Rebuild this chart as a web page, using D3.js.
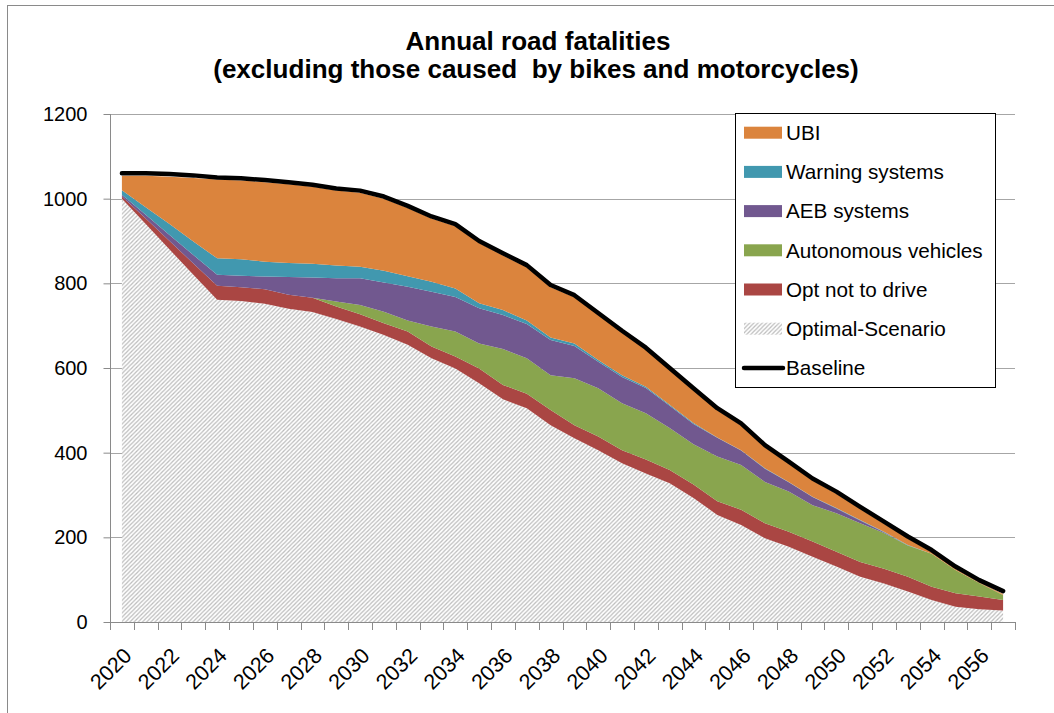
<!DOCTYPE html>
<head>
    <title>Annual road fatalities</title>
</head>
<meta charset="utf-8">

<script src="https://d3js.org/d3.v7.min.js"></script>
<style>
  body { margin: 0; background: #fff; }
  text { font-family: "Liberation Sans", Arial, sans-serif; fill: #000; }
</style>

<div id="my_dataviz"></div>
<body>
<script>

// values
var years = d3.range(2020, 2058)
var optimal   = [1000,940,880,820,761,758,752,740,732,716,698,678,655,623,599,564,526,505,465,434,406,375,351,328,293,253,229,198,178,154,131,107,91,72,52,36,30,27]
var optNot    = [5,13,20,27,33,33,34,33,34,29,29,28,31,28,28,35,34,34,36,31,32,31,33,31,32,32,36,35,35,36,35,35,35,35,31,32,30,25]
var autonom   = [0,0,0,0,0,0,0,0,0,12,22,27,26,47,59,59,85,84,82,111,114,111,109,99,95,106,106,98,95,86,91,91,84,74,78,55,32,12]
var aeb       = [4,9,14,20,26,27,30,42,48,55,63,69,80,82,82,83,80,81,83,76,63,62,60,53,48,44,34,31,22,19,11,7,2,0,0,0,0,0]
var warning   = [11,18,26,32,39,39,35,33,32,30,27,28,25,24,20,12,12,8,6,6,4,4,3,2,2,1,1,1,1,1,1,1,1,1,0,0,0,0]
var ubi       = [34,74,112,150,186,186,188,186,182,177,175,170,161,149,147,142,129,126,119,109,106,100,87,82,77,64,58,50,43,38,34,26,19,15,4,3,2,2]
var baseline  = [1060,1060,1058,1055,1050,1048,1044,1039,1033,1024,1019,1005,983,958,940,900,871,843,796,772,730,688,648,600,552,505,469,418,379,339,308,272,237,202,170,131,99,73]
var yTicks = [0, 200, 400, 600, 800, 1000, 1200]

var keys = ["optimal", "optNot", "autonom", "aeb", "warning", "ubi"]
var labels = {
  ubi: "UBI", warning: "Warning systems", aeb: "AEB systems",
  autonom: "Autonomous vehicles", optNot: "Opt not to drive", optimal: "Optimal-Scenario"
}
var colors = {
  ubi: "#db843d", warning: "#4198af", aeb: "#71588f",
  autonom: "#89a54e", optNot: "#aa4643", optimal: "url(#hatch)"
}

var table = years.map(function(yr, i) {
  return { year: yr, optimal: optimal[i], optNot: optNot[i], autonom: autonom[i],
           aeb: aeb[i], warning: warning[i], ubi: ubi[i], baseline: baseline[i] }
})

var W = 1054, H = 713
var plot = {left: 110, right: 1015, top: 114, bottom: 622}

var svg = d3.select("#my_dataviz")
  .append("svg")
    .attr("width", W)
    .attr("height", H)

var defs = svg.append("defs")
var pat = defs.append("pattern")
  .attr("id", "hatch")
  .attr("patternUnits", "userSpaceOnUse")
  .attr("width", 4.2).attr("height", 4.2)
pat.append("rect").attr("width", 4.2).attr("height", 4.2).attr("fill", "#fff")
pat.append("path")
  .attr("d", "M-1,1 l2,-2 M0,4.2 l4.2,-4.2 M3.2,5.2 l2,-2")
  .attr("stroke", "#bcbcbc")
  .attr("stroke-width", 1.2)

// outer chart frame
svg.append("rect")
  .attr("x", 7.5).attr("y", 5.5)
  .attr("width", 1100).attr("height", 800)
  .attr("fill", "none")
  .attr("stroke", "#8a8a8a")

var x = d3.scaleBand()
  .domain(years)
  .range([plot.left, plot.right])
var cx = function(yr) { return x(yr) + x.bandwidth() / 2 }

var y = d3.scaleLinear()
  .domain([0, 1200])
  .range([plot.bottom, plot.top])

// gridlines
svg.append("g")
  .selectAll("line")
  .data(yTicks.slice(1))
  .enter().append("line")
    .attr("x1", plot.left).attr("x2", plot.right)
    .attr("y1", function(d) { return Math.round(y(d)) + 0.5 })
    .attr("y2", function(d) { return Math.round(y(d)) + 0.5 })
    .attr("stroke", "#a6a6a6")
    .attr("stroke-width", 1)

// stacked areas
var stacked = d3.stack().keys(keys)(table)
var area = d3.area()
  .x(function(d) { return cx(d.data.year) })
  .y0(function(d) { return y(d[0]) })
  .y1(function(d) { return y(d[1]) })

svg.append("g")
  .selectAll("path")
  .data(stacked)
  .enter().append("path")
    .attr("d", area)
    .attr("fill", function(d) { return colors[d.key] })

// baseline
var line = d3.line()
  .x(function(d) { return cx(d.year) })
  .y(function(d) { return y(d.baseline) })
svg.append("path")
  .datum(table)
  .attr("d", line)
  .attr("fill", "none")
  .attr("stroke", "#000")
  .attr("stroke-width", 4.5)
  .attr("stroke-linejoin", "round")
  .attr("stroke-linecap", "round")

// y axis
var yAxis = svg.append("g")
  .attr("transform", "translate(" + (plot.left + 0.5) + ",0)")
  .call(d3.axisLeft(y).tickValues(yTicks).tickFormat(d3.format("d"))
        .tickSize(7).tickPadding(16).tickSizeOuter(0))
yAxis.selectAll("path, line").attr("stroke", "#8a8a8a")
yAxis.select(".domain").attr("d", "M0," + plot.top + "V" + plot.bottom)
yAxis.selectAll("text")
  .style("font-family", "Liberation Sans, Arial, sans-serif")
  .style("font-size", "20px")
  .attr("fill", "#000")

// x axis: line, ticks between categories, slanted labels
var xg = svg.append("g")
xg.append("line")
  .attr("x1", plot.left).attr("x2", plot.right)
  .attr("y1", plot.bottom + 0.5).attr("y2", plot.bottom + 0.5)
  .attr("stroke", "#8a8a8a")
xg.selectAll(".tick")
  .data(d3.range(years.length + 1))
  .enter().append("line")
    .attr("x1", function(i) { return Math.round(plot.left + i * x.step()) + 0.5 })
    .attr("x2", function(i) { return Math.round(plot.left + i * x.step()) + 0.5 })
    .attr("y1", plot.bottom).attr("y2", plot.bottom + 8)
    .attr("stroke", "#8a8a8a")
xg.selectAll("text")
  .data(years.filter(function(d) { return d % 2 === 0 }))
  .enter().append("text")
    .attr("transform", function(d) { return "translate(" + (cx(d) + 11) + "," + 657 + ") rotate(-45)" })
    .attr("text-anchor", "end")
    .style("font-size", "21.5px")
    .text(function(d) { return d })

// title
var title = svg.append("g").attr("font-weight", "bold")
var t1 = title.append("text")
  .attr("x", 538).attr("y", 49.5)
  .attr("text-anchor", "middle")
  .style("font-size", "26px")
  .text("Annual road fatalities")
var t2 = title.append("text")
  .attr("x", 536).attr("y", 78)
  .attr("text-anchor", "middle")
  .style("font-size", "26px")
  .style("white-space", "pre")
  .text("(excluding those caused  by bikes and motorcycles)")
// size the title so its widths match the original
var s1 = 26 * 264 / t1.node().getComputedTextLength()
var s2 = 26 * 648 / t2.node().getComputedTextLength()
var s = (s1 + s2) / 2
t1.style("font-size", s + "px")
t2.style("font-size", s + "px")

// legend
var lg = svg.append("g")
lg.append("rect")
  .attr("x", 735.5).attr("y", 113.5)
  .attr("width", 260).attr("height", 274)
  .attr("fill", "#fff")
  .attr("stroke", "#000")
var legendKeys = ["ubi", "warning", "aeb", "autonom", "optNot", "optimal", "baseline"]
var item = lg.selectAll(".item")
  .data(legendKeys)
  .enter().append("g")
    .attr("transform", function(d, i) { return "translate(744," + (132.7 + i * 39.2) + ")" })
item.filter(function(d) { return d !== "baseline" })
  .append("rect")
    .attr("x", 0).attr("y", -6)
    .attr("width", 38).attr("height", 12)
    .attr("fill", function(d) { return colors[d] })
item.filter(function(d) { return d === "baseline" })
  .append("line")
    .attr("x1", 0).attr("x2", 39)
    .attr("stroke", "#000")
    .attr("stroke-width", 4.5)
    .attr("stroke-linecap", "round")
item.append("text")
  .attr("x", 42)
  .attr("dy", "0.35em")
  .style("font-size", "20.7px")
  .text(function(d) { return d === "baseline" ? "Baseline" : labels[d] })

</script>
</body>
